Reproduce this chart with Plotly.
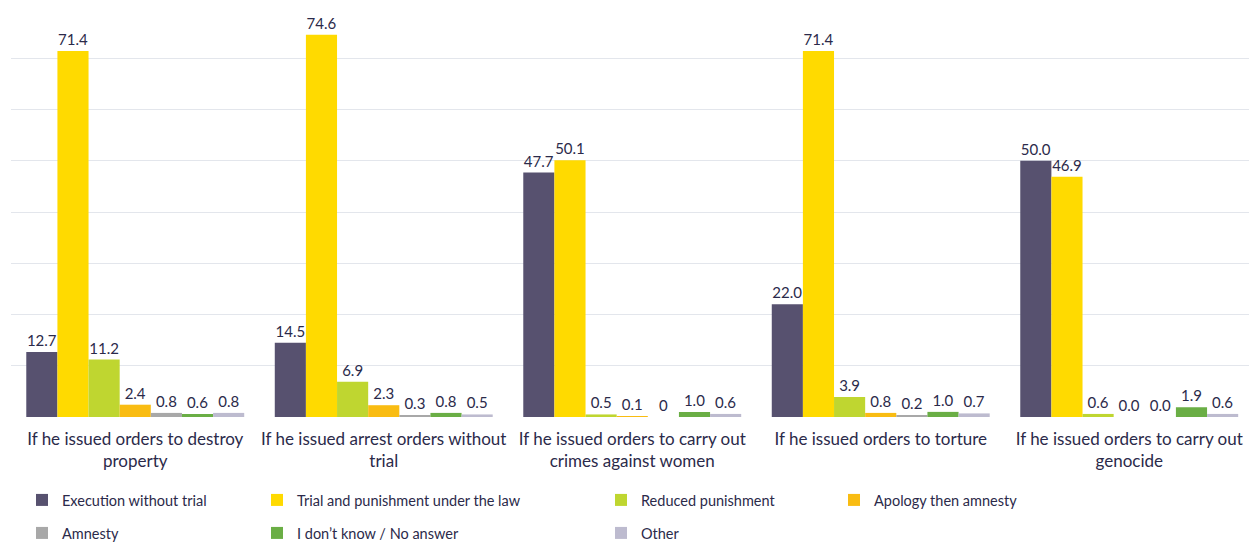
import plotly.graph_objects as go

categories = [
    "If he issued orders to destroy<br>property",
    "If he issued arrest orders without<br>trial",
    "If he issued orders to carry out<br>crimes against women",
    "If he issued orders to torture",
    "If he issued orders to carry out<br>genocide",
]

series_names = [
    "Execution without trial",
    "Trial and punishment under the law",
    "Reduced punishment",
    "Apology then amnesty",
    "Amnesty",
    "I don\u2019t know / No answer",
    "Other",
]

execution = [12.7, 14.5, 47.7, 22.0, 50.0]
trial = [71.4, 74.6, 50.1, 71.4, 46.9]
reduced = [11.2, 6.9, 0.5, 3.9, 0.6]
apology = [2.4, 2.3, 0.1, 0.8, 0.0]
amnesty = [0.8, 0.3, 0.0, 0.2, 0.0]
dont_know = [0.6, 0.8, 1.0, 1.0, 1.9]
other = [0.8, 0.5, 0.6, 0.7, 0.6]

# printed labels (one value is shown without a decimal)
amnesty_labels = ["0.8", "0.3", "0", "0.2", "0.0"]

series_values = [execution, trial, reduced, apology, amnesty, dont_know, other]
colors = ["#57516F", "#FFDA00", "#BFD630", "#F9BC12", "#A8A8A8", "#6AAE45", "#BDBBCF"]

# one legend box per entry, laid out as a 4-column grid below the plot
legend_ids = ["legend", "legend2", "legend3", "legend4", "legend5", "legend6", "legend7"]
legend_text_x = [62, 297, 641, 874, 62, 297, 641]   # px where each entry's text starts
legend_row_y = [500, 500, 500, 500, 533, 533, 533]   # px centre of each row

W, H = 1249, 544
ML, MR, MT, MB = 11, 0, 7, 127
PW, PH = W - ML - MR, H - MT - MB

TEXT = "#2B2A4A"
FONT = "Lato"

fig = go.Figure()
for name, vals, col, lg in zip(series_names, series_values, colors, legend_ids):
    if vals is amnesty:
        labels = amnesty_labels
    else:
        labels = [f"{v:.1f}" for v in vals]
    fig.add_trace(go.Bar(
        name=name,
        x=categories,
        y=vals,
        marker=dict(color=col, line=dict(width=0)),
        text=labels,
        textposition="outside",
        textfont=dict(size=15, color=TEXT, family=FONT),
        cliponaxis=False,
        legend=lg,
        showlegend=True,
        hoverinfo="skip",
    ))

legends = {}
for lg, tx, ry in zip(legend_ids, legend_text_x, legend_row_y):
    legends[lg] = dict(
        orientation="v",
        xanchor="left",
        yanchor="middle",
        x=(tx - 40 - ML) / PW,
        y=(H - MB - ry) / PH,
        font=dict(size=14.5, color=TEXT, family=FONT),
        bgcolor="rgba(0,0,0,0)",
        borderwidth=0,
    )

fig.update_layout(
    width=W,
    height=H,
    showlegend=True,
    margin=dict(l=ML, r=MR, t=MT, b=MB, autoexpand=False),
    paper_bgcolor="white",
    plot_bgcolor="white",
    barmode="group",
    bargap=0.123,
    bargroupgap=0,
    font=dict(family=FONT, color=TEXT),
    xaxis=dict(
        range=[-0.5, 4.482],
        showgrid=False,
        showline=False,
        ticks="",
        ticklabelstandoff=10,
        tickfont=dict(size=17, color=TEXT, family=FONT),
    ),
    yaxis=dict(
        range=[0, 80],
        dtick=10,
        showticklabels=False,
        gridcolor="#E3E6EC",
        gridwidth=1.3,
        zeroline=False,
        showline=False,
    ),
    **legends,
)

fig.write_html("out.html")
